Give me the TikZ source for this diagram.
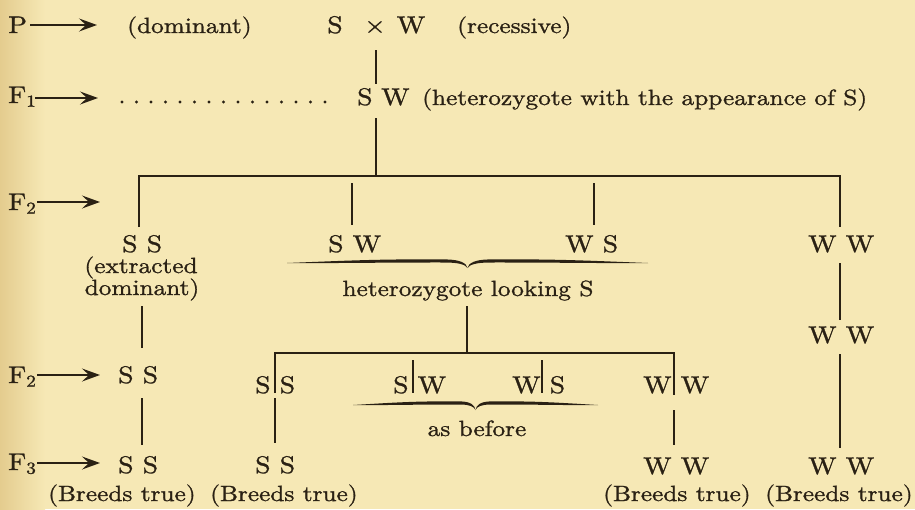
\documentclass[tikz,border=0pt]{standalone}
\usepackage{fontspec}
\setmainfont{lmroman10-regular.otf}[FakeStretch=1.15,FakeBold=1.2]
\usetikzlibrary{arrows.meta}
\definecolor{ink}{RGB}{42,33,20}
\definecolor{paper}{RGB}{246,232,181}
\definecolor{edgetone}{RGB}{228,204,142}
\newcommand\bigf{\fontsize{24}{28}\selectfont}
\newcommand\smf{\fontsize{22}{26}\selectfont}
\newcommand\ubrace[3]{%
 \pgfmathsetmacro\brA{#1}\pgfmathsetmacro\brB{#2}%
 \pgfmathsetmacro\brM{(#1+#2)/2}\pgfmathsetmacro\brQ{(#2-#1)/2}\pgfmathsetmacro\brY{#3}%
 \fill[ink] (\brA,\brY+3) .. controls ({\brA+0.35*\brQ},\brY+0.5) and ({\brM-0.5*\brQ},\brY-1) .. ({\brM-0.12*\brQ},\brY-0.6)
   .. controls ({\brM-0.04*\brQ},\brY-0.3) and ({\brM-0.006*\brQ},\brY+3) .. (\brM,\brY+8)
   .. controls ({\brM-0.012*\brQ},\brY+4.5) and ({\brM-0.05*\brQ},\brY+2.6) .. ({\brM-0.12*\brQ},\brY+2.5)
   .. controls ({\brM-0.5*\brQ},\brY+2.4) and ({\brA+0.35*\brQ},\brY+3.3) .. (\brA,\brY+3) -- cycle;
 \fill[ink] (\brB,\brY+3) .. controls ({\brB-0.35*\brQ},\brY+0.5) and ({\brM+0.5*\brQ},\brY-1) .. ({\brM+0.12*\brQ},\brY-0.6)
   .. controls ({\brM+0.04*\brQ},\brY-0.3) and ({\brM+0.006*\brQ},\brY+3) .. (\brM,\brY+8)
   .. controls ({\brM+0.012*\brQ},\brY+4.5) and ({\brM+0.05*\brQ},\brY+2.6) .. ({\brM+0.12*\brQ},\brY+2.5)
   .. controls ({\brM+0.5*\brQ},\brY+2.4) and ({\brB-0.35*\brQ},\brY+3.3) .. (\brB,\brY+3) -- cycle;
}
\tikzset{
 gt/.style={inner sep=0pt, font=\bigf, text=ink, anchor=base west},
 lab/.style={inner sep=0pt, font=\smf, text=ink, anchor=base west},
 labc/.style={inner sep=0pt, font=\smf, text=ink, anchor=base},
 ln/.style={draw=ink, line width=1.6pt},
 arr/.style={ln, -{Stealth[length=18pt,width=13pt,inset=7pt]}}
}
\begin{document}
\begin{tikzpicture}[x=1pt,y=-1pt]
\fill[paper] (0,0) rectangle (915,509);
\shade[left color=edgetone, right color=paper] (0,0) rectangle (45,509);
\useasboundingbox (0,0) rectangle (915,509);

% ---- row P ----
\node[gt] (P) at (8,33) {P};
\node[lab] (dom) at (127,33) {(dominant)};
\node[gt, anchor=base] (pS) at (335,33) {S};
\node[gt, anchor=base] (cross) at (375,33) {×};
\node[gt, anchor=base] (pW) at (411,33) {W};
\node[lab] (rec) at (457,33) {(recessive)};
\coordinate (aP1) at (30,25); \coordinate (aP2) at (97,25);
\draw[arr] (aP1) -- (aP2);

% ---- row F1 ----
\node[gt] (F1) at (8,103) {F\textsubscript{1}};
\coordinate (aF1a) at (35,98); \coordinate (aF1b) at (98,98);
\draw[arr] (aF1a) -- (aF1b);
\foreach \i in {0,...,14} \fill[ink] ({122+\i*14.5},102) circle (1.7);
\node[gt] (f1S) at (357,105) {S};
\node[gt] (f1W) at (381,105) {W};
\node[lab] (het) at (422,105) {(heterozygote with the appearance of S)};
\coordinate (c1) at (376,50); \coordinate (c2) at (376,84);
\draw[ln] (c1) -- (c2);

% ---- F2 branching ----
\coordinate (c3) at (376,118); \coordinate (c3b) at (376,176);
\coordinate (hL) at (139,176); \coordinate (hR) at (840,176);
\coordinate (vLb) at (139,227); \coordinate (vRb) at (840,227);
\draw[ln] (c3) -- (c3b);
\draw[ln] (vLb) -- (hL) -- (hR) -- (vRb);
\coordinate (sw1) at (352,183); \coordinate (sw2) at (352,225);
\coordinate (ws1) at (594,183); \coordinate (ws2) at (594,225);
\draw[ln] (sw1) -- (sw2);
\draw[ln] (ws1) -- (ws2);

\node[gt] (F2) at (8,210) {F\textsubscript{2}};
\coordinate (aF2a) at (37,202); \coordinate (aF2b) at (100,202);
\draw[arr] (aF2a) -- (aF2b);

\node[gt] (SS) at (122,252) {S S};
\node[gt] (SW) at (328,252) {S W};
\node[gt] (WS) at (565,252) {W S};
\node[gt] (WW) at (808,252) {W W};
\node[labc] (ext1) at (141,273) {(extracted};
\node[labc] (ext2) at (142,295) {dominant)};
\ubrace{287}{648}{260}
\node[labc] (hls) at (468,296) {heterozygote looking S};

% ---- left column ----
\coordinate (l1) at (142,306); \coordinate (l2) at (142,348);
\draw[ln] (l1) -- (l2);
\node[gt] (F2b) at (8,383) {F\textsubscript{2}};
\coordinate (aF2c) at (37,375); \coordinate (aF2d) at (100,375);
\draw[arr] (aF2c) -- (aF2d);
\node[gt] (SS2) at (118,383) {S S};
\coordinate (l3) at (142,398); \coordinate (l4) at (142,445);
\draw[ln] (l3) -- (l4);
\node[gt] (F3) at (8,470) {F\textsubscript{3}};
\coordinate (aF3a) at (37,463); \coordinate (aF3b) at (100,463);
\draw[arr] (aF3a) -- (aF3b);
\node[gt] (SS3) at (118,473) {S S};

% ---- middle: heterozygotes selfed ----
\coordinate (m1) at (467,306); \coordinate (m2) at (467,353);
\draw[ln] (m1) -- (m2);
\coordinate (g1) at (275,393); \coordinate (g2) at (275,353);
\coordinate (g3) at (674,353); \coordinate (g4) at (674,395);
\draw[ln] (g1) -- (g2) -- (g3) -- (g4);
\node[gt] (SgS) at (255,393) {S S};
\node[gt] (SgW) at (393,393) {S W};
\node[gt] (WgS) at (512,393) {W S};
\node[gt] (WgW) at (643,393) {W W};
\coordinate (b1) at (413,360); \coordinate (b2) at (413,393);
\coordinate (b3) at (542,360); \coordinate (b4) at (542,393);
\draw[ln] (b1) -- (b2);
\draw[ln] (b3) -- (b4);
\ubrace{353}{598}{402}
\node[labc] (asb) at (477,436) {as before};
\coordinate (s1) at (275,398); \coordinate (s2) at (275,443);
\draw[ln] (s1) -- (s2);
\node[gt] (SS4) at (255,473) {S S};
\coordinate (w1) at (674,410); \coordinate (w2) at (674,445);
\draw[ln] (w1) -- (w2);
\node[gt] (WW3) at (643,474) {W W};

% ---- right column ----
\coordinate (r1) at (840,263); \coordinate (r2) at (840,320);
\draw[ln] (r1) -- (r2);
\node[gt] (WWm) at (808,343) {W W};
\coordinate (r3) at (840,354); \coordinate (r4) at (840,448);
\draw[ln] (r3) -- (r4);
\node[gt] (WW4) at (808,474) {W W};

% ---- bottom labels ----
\node[lab] (bt1) at (48,501) {(Breeds true)};
\node[lab] (bt2) at (210,501) {(Breeds true)};
\node[lab] (bt3) at (603,501) {(Breeds true)};
\node[lab] (bt4) at (765,501) {(Breeds true)};
\end{tikzpicture}
\end{document}
